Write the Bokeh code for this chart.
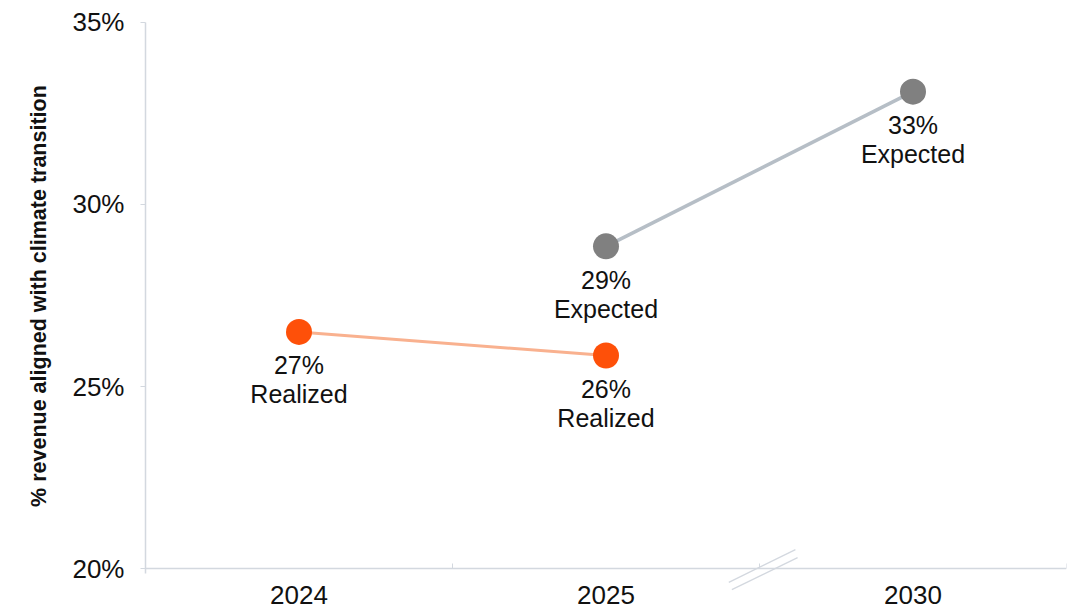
from bokeh.plotting import figure
from bokeh.models import ColumnDataSource, FixedTicker, Range1d
from bokeh.core.properties import value
from bokeh.embed import file_html
from bokeh.resources import INLINE

# ---- data ----
years = ["2024", "2025", "2030"]
realized_years = ["2024", "2025"]
realized_values = [26.5, 25.85]
realized_labels = ["27%\nRealized", "26%\nRealized"]
expected_years = ["2025", "2030"]
expected_values = [28.85, 33.1]
expected_labels = ["29%\nExpected", "33%\nExpected"]
y_ticks = [20, 25, 30, 35]
y_tick_labels = ["20%", "25%", "30%", "35%"]
y_title = "% revenue aligned with climate transition"

FONT = "Liberation Sans"
ORANGE = "#FE5009"
ORANGE_LINE = "#F9B18F"
GREY = "#808080"
GREY_LINE = "#B6BEC6"
AXIS = "#D3D8DF"

pos = {y: i + 0.5 for i, y in enumerate(years)}
# frame padding (in %) around the axis span so the break mark and year labels can show
y_lo = y_ticks[0] - 1.126
y_hi = y_ticks[-1] + 0.604

p = figure(width=1078, height=609, output_backend="svg", toolbar_location=None,
           x_range=Range1d(0, len(years)), y_range=Range1d(y_lo, y_hi),
           min_border_left=145, min_border_right=12, min_border_top=0, min_border_bottom=0)
p.outline_line_color = None
p.grid.visible = False
p.background_fill_color = "white"
p.border_fill_color = "white"

rs = ColumnDataSource(dict(x=[pos[y] for y in realized_years], y=realized_values, t=realized_labels))
es = ColumnDataSource(dict(x=[pos[y] for y in expected_years], y=expected_values, t=expected_labels))

p.line("x", "y", source=rs, line_color=ORANGE_LINE, line_width=3)
p.line("x", "y", source=es, line_color=GREY_LINE, line_width=3.5)
p.scatter("x", "y", source=rs, size=26, fill_color=ORANGE, line_color=None)
p.scatter("x", "y", source=es, size=26, fill_color=GREY, line_color=None)

for src in (rs, es):
    p.text("x", "y", text="t", source=src, text_font=value(FONT), text_font_size="25px",
           text_color="#111111", text_align="center", text_baseline="top",
           text_line_height=1.03, y_offset=19.5)

# axis break mark between 2025 and 2030
bx = 2.0
by = y_ticks[0]
p.segment(x0=[bx - 0.100, bx - 0.090], y0=[by - 0.38, by - 0.58],
          x1=[bx + 0.117, bx + 0.124], y1=[by + 0.52, by + 0.30],
          line_color=AXIS, line_width=1.3)

# axes
xa = p.xaxis[0]
xa.fixed_location = y_ticks[0]
xa.ticker = FixedTicker(ticks=[pos[y] for y in years], minor_ticks=list(range(len(years) + 1)))
xa.major_label_overrides = {pos[y]: y for y in years}
xa.major_tick_out = 0
xa.major_tick_in = 0
xa.minor_tick_in = 5
xa.minor_tick_out = 0
xa.minor_tick_line_color = AXIS
xa.axis_line_color = AXIS
xa.axis_line_width = 1.5
xa.major_label_text_font = FONT
xa.major_label_text_font_size = "26px"
xa.major_label_text_color = "#111111"
xa.major_label_standoff = 17

ya = p.yaxis[0]
ya.bounds = (y_ticks[0] - 0.14, y_ticks[-1])
ya.ticker = FixedTicker(ticks=y_ticks)
ya.major_label_overrides = {t: l for t, l in zip(y_ticks, y_tick_labels)}
ya.major_tick_out = 5
ya.major_tick_in = 0
ya.minor_tick_out = 0
ya.minor_tick_in = 0
ya.major_tick_line_color = AXIS
ya.axis_line_color = AXIS
ya.axis_line_width = 1.5
ya.major_label_text_font = FONT
ya.major_label_text_font_size = "26px"
ya.major_label_text_color = "#111111"
ya.major_label_standoff = 16
ya.axis_label = "\u00a0\u00a0\u00a0" + y_title
ya.axis_label_text_font = FONT
ya.axis_label_text_font_style = "bold"
ya.axis_label_text_font_size = "21.5px"
ya.axis_label_text_color = "#111111"
ya.axis_label_standoff = 18

open("out.html", "w").write(file_html(p, INLINE))
